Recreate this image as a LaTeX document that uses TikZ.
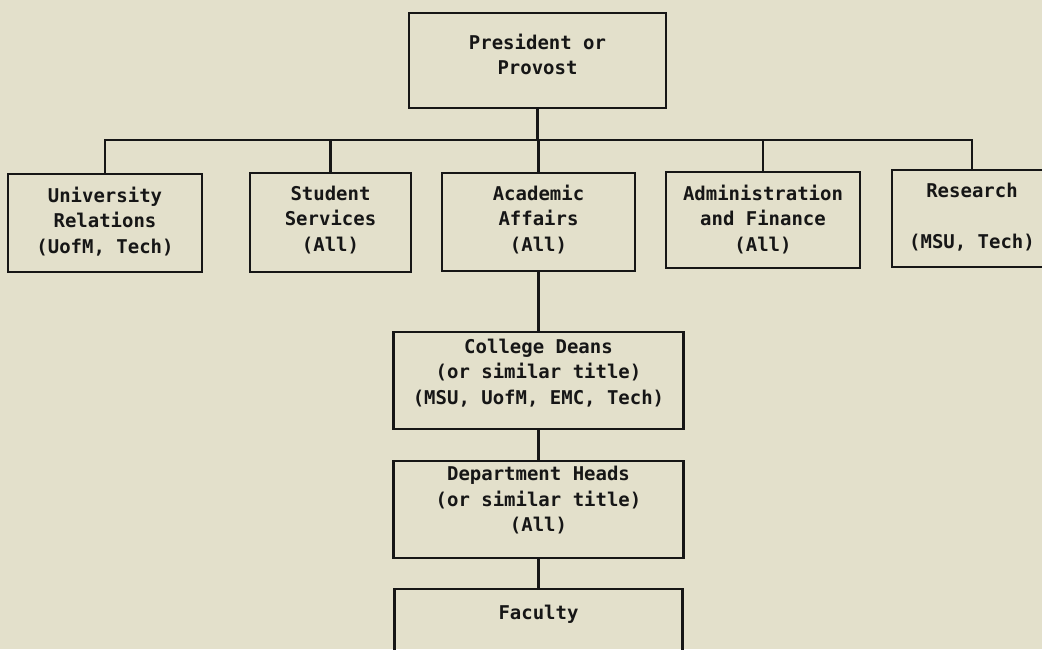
\documentclass[tikz,border=0pt]{standalone}
\usepackage{fontspec}
\usepackage{xcolor}
\usepackage{tikz}
\usetikzlibrary{positioning}
\newfontfamily\orgfont{DejaVu Sans Mono}
\definecolor{paper}{RGB}{227,224,203}
\definecolor{ink}{RGB}{22,22,22}

\begin{document}
\begin{tikzpicture}[
    box/.style={draw=ink, line width=1.4pt, rectangle, inner sep=0pt},
    txt/.style={anchor=north, align=center, inner sep=0pt, text=ink,
        font=\orgfont\bfseries\fontsize{10.8}{14.5}\selectfont},
    link/.style={draw=ink, line width=1.4pt}
]
    \fill[paper] (0,0) rectangle (20.84,-12.98);
    \useasboundingbox (0,0) rectangle (20.84,-12.98);

    % Head of the chart
    \node[box, minimum width=5.14cm, minimum height=1.9cm,
        label={[txt, name=prestxt, yshift=-0.43cm]north:{President or\\Provost}}] (pres) at (10.75,-1.21) {};

    % Second row
    \node[box, minimum width=3.88cm, minimum height=1.96cm,
        label={[txt, name=univtxt, yshift=-0.27cm]north:{University\\Relations\\(UofM, Tech)}}] (univ) at (2.10,-4.46) {};
    \node[box, minimum width=3.22cm, minimum height=1.98cm,
        label={[txt, name=studtxt, yshift=-0.27cm]north:{Student\\Services\\(All)}}] (stud) at (6.61,-4.45) {};
    \node[box, minimum width=3.86cm, minimum height=1.96cm,
        label={[txt, name=acadtxt, yshift=-0.25cm]north:{Academic\\Affairs\\(All)}}] (acad) at (10.77,-4.44) {};
    \node[box, minimum width=3.88cm, minimum height=1.92cm,
        label={[txt, name=admintxt, yshift=-0.27cm]north:{Administration\\and Finance\\(All)}}] (admin) at (15.26,-4.40) {};
    \node[box, minimum width=3.20cm, minimum height=1.94cm,
        label={[txt, name=restxt, yshift=-0.27cm]north:{Research\\[14.5pt](MSU, Tech)}}] (res) at (19.44,-4.37) {};

    % Academic line downwards
    \node[box, minimum width=5.80cm, minimum height=1.94cm,
        label={[txt, name=deanstxt, yshift=-0.15cm]north:{College Deans\\(or similar title)\\(MSU, UofM, EMC, Tech)}}] (deans) at (10.77,-7.61) {};
    \node[box, minimum width=5.80cm, minimum height=1.94cm,
        label={[txt, name=depttxt, yshift=-0.12cm]north:{Department Heads\\(or similar title)\\(All)}}] (dept) at (10.77,-10.19) {};
    \node[box, minimum width=5.76cm, minimum height=2.02cm,
        label={[txt, name=factxt, yshift=-0.34cm]north:{Faculty}}] (fac) at (10.77,-12.79) {};

    % Connectors
    \coordinate (bus) at (10.75,-2.80);
    \draw[link] (pres.south) -- (bus);
    \foreach \n in {univ,stud,acad,admin,res}
        \draw[link] (bus) -| (\n.north);
    \draw[link] (acad.south) -- (deans.north);
    \draw[link] (deans.south) -- (dept.north);
    \draw[link] (dept.south) -- (fac.north);
\end{tikzpicture}
\end{document}
